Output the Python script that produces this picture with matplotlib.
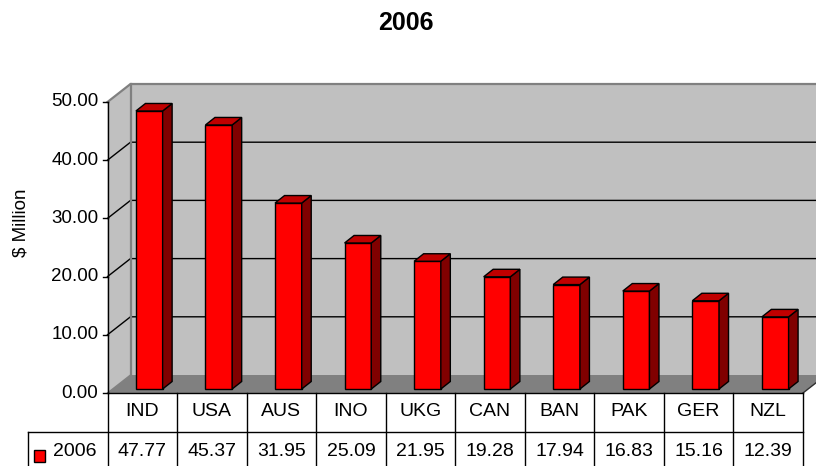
import matplotlib
matplotlib.use("Agg")
import matplotlib.pyplot as plt
from matplotlib.patches import Polygon, Rectangle
from matplotlib.lines import Line2D
import matplotlib.transforms as mtrans
import numpy as np

# ---------------- data ----------------
title = "2006"
series_name = "2006"
categories = ["IND", "USA", "AUS", "INO", "UKG", "CAN", "BAN", "PAK", "GER", "NZL"]
values = [47.77, 45.37, 31.95, 25.09, 21.95, 19.28, 17.94, 16.83, 15.16, 12.39]
yticks = [0, 10, 20, 30, 40, 50]
ylabel = "$ Million"

# ---------------- style ----------------
W, H, DPI = 816, 466, 100
plt.rcParams['font.family'] = ['Liberation Sans', 'DejaVu Sans']
FS = 13.5
FS_TBL = 14
RED, RED_TOP, RED_SIDE = '#FF0000', '#C00000', '#800000'
WALL, FLOOR, EDGE = '#C0C0C0', '#808080', '#808080'

fig = plt.figure(figsize=(W / DPI, H / DPI), dpi=DPI)
fig.patch.set_facecolor('white')

# front plane of the 3-D box (pixels from top-left)
L, R, T, B = 107.5, 803, 102, 393
ax = fig.add_axes([L / W, 1 - B / H, (R - L) / W, (B - T) / H])
n = len(categories)
ymax = yticks[-1]
ax.set_xlim(0, n)
ax.set_ylim(0, ymax)
ax.axis('off')

sx = (R - L) / n          # px per category
sy = (B - T) / ymax       # px per value unit
DX, DY = 23 / sx, 18 / sy  # wall depth
BX0, BY0 = 7 / sx, 4 / sy  # bar front offset
BW = 26.7 / sx             # bar width
BDX, BDY = 9.5 / sx, 7.5 / sy  # bar depth

def fy(px):
    return 1 - px / H

# walls and floor
ax.add_patch(Polygon([(DX, DY), (n + DX, DY), (n + DX, ymax + DY), (DX, ymax + DY)],
                     closed=True, facecolor=WALL, edgecolor='none', clip_on=False, zorder=0))
ax.add_patch(Polygon([(0, 0), (DX, DY), (DX, ymax + DY), (0, ymax)],
                     closed=True, facecolor=WALL, edgecolor='none', clip_on=False, zorder=0))
ax.add_patch(Polygon([(0, 0), (n, 0), (n + DX, DY), (DX, DY)],
                     closed=True, facecolor=FLOOR, edgecolor='none', clip_on=False, zorder=1))
ax.plot([n, n + DX], [0, DY], color='#303030', lw=1, clip_on=False, zorder=1)

# gridlines
for v in yticks:
    if v == 0:
        ax.plot([0, DX], [0, DY], color=EDGE, lw=1, clip_on=False, zorder=1)
    elif v == ymax:
        ax.plot([0, DX, n + DX], [v, v + DY, v + DY], color=EDGE, lw=1.6, clip_on=False, zorder=1)
    else:
        ax.plot([0, DX, n + DX], [v, v + DY, v + DY], color='black', lw=1, clip_on=False, zorder=1)
ax.plot([DX, DX], [DY, ymax + DY], color=EDGE, lw=1.6, clip_on=False, zorder=1)

# y axis, ticks, labels
ax.plot([0, 0], [0, ymax], color='black', lw=1, clip_on=False, zorder=4)
for v in yticks:
    ax.plot([-5 / sx, 0], [v, v], color='black', lw=1, clip_on=False, zorder=4)
    ax.text(-9 / sx, v, f"{v:.2f}", ha='right', va='center', fontsize=FS, zorder=4)

# bars
x = np.arange(n) + 0.5
ax.bar(x + BX0, values, width=BW, bottom=BY0, color=RED, edgecolor='black',
       linewidth=1, clip_on=False, zorder=3)
for xi, v in zip(x, values):
    xl, xr = xi + BX0 - BW / 2, xi + BX0 + BW / 2
    top = BY0 + v
    ax.add_patch(Polygon([(xr, BY0), (xr + BDX, BY0 + BDY), (xr + BDX, top + BDY), (xr, top)],
                         closed=True, facecolor=RED_SIDE, edgecolor='black', lw=1,
                         clip_on=False, zorder=3))
    ax.add_patch(Polygon([(xl, top), (xr, top), (xr + BDX, top + BDY), (xl + BDX, top + BDY)],
                         closed=True, facecolor=RED_TOP, edgecolor='black', lw=1,
                         clip_on=False, zorder=3))

# data table
tr = mtrans.blended_transform_factory(ax.transData, fig.transFigure)
row1_top, row2_top, tbl_bot = 393, 432, 472
for k in range(n + 1):
    ax.add_line(Line2D([k, k], [fy(row1_top), fy(tbl_bot)], transform=tr, color='black',
                       lw=1, clip_on=False, zorder=5))
ax.add_line(Line2D([0, n], [fy(row1_top), fy(row1_top)], transform=tr, color='black',
                   lw=1, clip_on=False, zorder=5))
fig.add_artist(Line2D([28 / W, R / W], [fy(row2_top), fy(row2_top)], color='black', lw=1))
fig.add_artist(Line2D([28 / W, 28 / W], [fy(row2_top), fy(tbl_bot)], color='black', lw=1))
for xi, c, v in zip(x, categories, values):
    ax.text(xi, fy(412), c, transform=tr, ha='center', va='center', fontsize=FS_TBL)
    ax.text(xi, fy(451), f"{v:.2f}", transform=tr, ha='center', va='center', fontsize=FS_TBL)

# legend key in table
fig.add_artist(Rectangle((34 / W, fy(462)), 11 / W, 12 / H, facecolor=RED,
                         edgecolor='black', lw=1))
fig.text(53 / W, fy(452), series_name, ha='left', va='center', fontsize=FS_TBL)

# title and axis label
fig.text(406 / W, fy(23), title, ha='center', va='center', fontsize=18, fontweight='bold')
fig.text(21 / W, fy(223), ylabel, ha='center', va='center', fontsize=FS, rotation=90)

fig.savefig('out.png', dpi=DPI)
